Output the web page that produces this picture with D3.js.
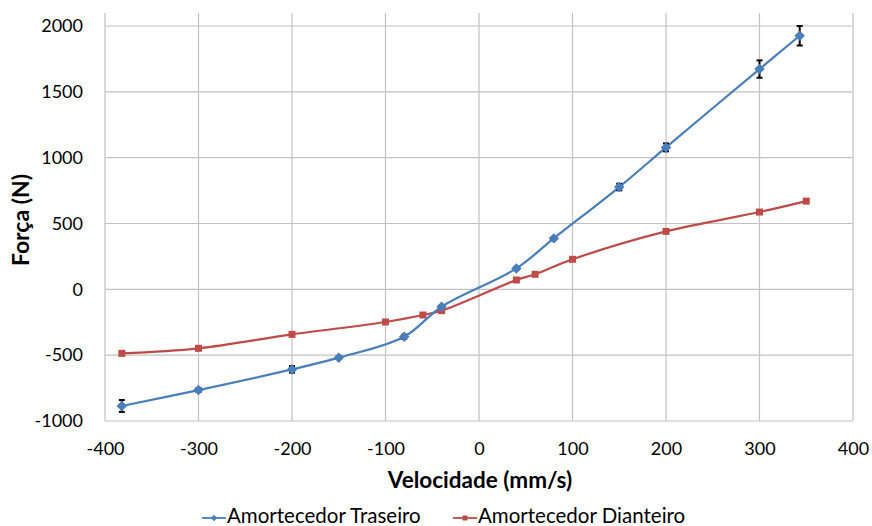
<!DOCTYPE html>
<html>
<head>
<meta charset="utf-8">
<script src="https://cdn.jsdelivr.net/npm/d3@7"></script>
<style>
  html, body { margin: 0; padding: 0; background: #fff; }
  svg { display: block; }
  text { font-family: Lato, "Open Sans", sans-serif; fill: #000; }
</style>
</head>
<body>
<svg id="chart" width="872" height="526"></svg>
<script>
// Damper force vs. velocity
const xTicks = [-400, -300, -200, -100, 0, 100, 200, 300, 400];
const yTicks = [-1000, -500, 0, 500, 1000, 1500, 2000];

const rearVelocity = [-382, -300, -200, -150, -80, -40, 40, 80, 150, 200, 300, 343];
const rearForce    = [-886, -765, -608, -519, -360, -132, 159, 387, 777, 1078, 1673, 1926];
const rearError    = [45, 15, 25, 10, 15, 10, 10, 10, 25, 30, 66, 74];

const frontVelocity = [-382, -300, -200, -100, -60, -40, 40, 60, 100, 200, 300, 350];
const frontForce    = [-486, -448, -342, -248, -195, -162, 71, 114, 228, 440, 587, 670];

const seriesNames = ["Amortecedor Traseiro", "Amortecedor Dianteiro"];
const colors = ["#4a7ebb", "#be4b48"];

const svg = d3.select("#chart");
const plotLeft = 105, plotRight = 853, plotTop = 26, plotBottom = 421, frameTop = 13;

const x = d3.scaleLinear().domain([-400, 400]).range([plotLeft, plotRight]);
const y = d3.scaleLinear().domain([-1000, 2000]).range([plotBottom, plotTop]);
const fmt = d => String(d);

// grid
const grid = svg.append("g").attr("stroke", "#c2c2c2").attr("stroke-width", 1.2);
grid.selectAll("line.v").data(xTicks).enter().append("line")
  .attr("x1", d => x(d)).attr("x2", d => x(d))
  .attr("y1", frameTop).attr("y2", plotBottom);
grid.selectAll("line.h").data(yTicks).enter().append("line")
  .attr("x1", plotLeft).attr("x2", plotRight)
  .attr("y1", d => y(d)).attr("y2", d => y(d));

// axes (labels only)
const xAxis = d3.axisBottom(x).tickValues(xTicks).tickFormat(fmt).tickSize(0).tickPadding(21);
const gx = svg.append("g").attr("transform", `translate(0,${plotBottom})`).call(xAxis);
gx.select(".domain").remove();
gx.selectAll("text").style("font-size", "18px").style("font-family", "Lato, sans-serif").attr("fill", "#000");

const yAxis = d3.axisLeft(y).tickValues(yTicks).tickFormat(fmt).tickSize(0).tickPadding(22);
const gy = svg.append("g").attr("transform", `translate(${plotLeft},0)`).call(yAxis);
gy.select(".domain").remove();
gy.selectAll("text").style("font-size", "18px").style("font-family", "Lato, sans-serif").attr("fill", "#000");

// titles
svg.append("text").attr("x", 480).attr("y", 488).attr("text-anchor", "middle")
  .style("font-size", "22.5px").style("font-weight", "bold").text("Velocidade (mm/s)");
svg.append("text").attr("transform", "translate(29,220) rotate(-90)").attr("text-anchor", "middle")
  .style("font-size", "23px").style("font-weight", "bold").text("Força (N)");

const line = d3.line().x(d => x(d[0])).y(d => y(d[1])).curve(d3.curveCatmullRom.alpha(0.5));

const rear = rearVelocity.map((v, i) => [v, rearForce[i], rearError[i]]);
const front = frontVelocity.map((v, i) => [v, frontForce[i]]);

// front damper
svg.append("path").datum(front).attr("d", line)
  .attr("fill", "none").attr("stroke", colors[1]).attr("stroke-width", 2.2);
svg.append("g").selectAll("rect").data(front).enter().append("rect")
  .attr("x", d => x(d[0]) - 3.5).attr("y", d => y(d[1]) - 3.5)
  .attr("width", 7).attr("height", 7).attr("fill", colors[1]);

// rear damper
svg.append("path").datum(rear).attr("d", line)
  .attr("fill", "none").attr("stroke", colors[0]).attr("stroke-width", 2.2);

// error bars
const eb = svg.append("g").attr("stroke", "#000").attr("stroke-width", 2);
rear.forEach(d => {
  const cx = x(d[0]), y1 = y(d[1] + d[2]), y2 = y(d[1] - d[2]);
  eb.append("line").attr("x1", cx).attr("x2", cx).attr("y1", y1).attr("y2", y2);
  eb.append("line").attr("x1", cx - 3).attr("x2", cx + 3).attr("y1", y1).attr("y2", y1);
  eb.append("line").attr("x1", cx - 3).attr("x2", cx + 3).attr("y1", y2).attr("y2", y2);
});

const diamond = d3.symbol().type(d3.symbolDiamond2).size(70);
svg.append("g").selectAll("path").data(rear).enter().append("path")
  .attr("d", diamond).attr("transform", d => `translate(${x(d[0])},${y(d[1])})`)
  .attr("fill", colors[0]);

// legend
const legendDiamond = d3.symbol().type(d3.symbolDiamond2).size(28);
const legendItems = [
  { name: seriesNames[0], color: colors[0], x: 202, sym: "diamond" },
  { name: seriesNames[1], color: colors[1], x: 453, sym: "square" }
];
const lg = svg.append("g");
legendItems.forEach(it => {
  const g = lg.append("g").attr("transform", `translate(${it.x},518)`);
  g.append("line").attr("x1", 0).attr("x2", 24).attr("stroke", it.color).attr("stroke-width", 1.8);
  if (it.sym === "diamond") {
    g.append("path").attr("d", legendDiamond).attr("transform", "translate(12,0)").attr("fill", it.color);
  } else {
    g.append("rect").attr("x", 9.5).attr("y", -2.5).attr("width", 5).attr("height", 5).attr("fill", it.color);
  }
  g.append("text").attr("x", 25).attr("y", 5).style("font-size", "20.5px").text(it.name);
});
</script>
</body>
</html>
